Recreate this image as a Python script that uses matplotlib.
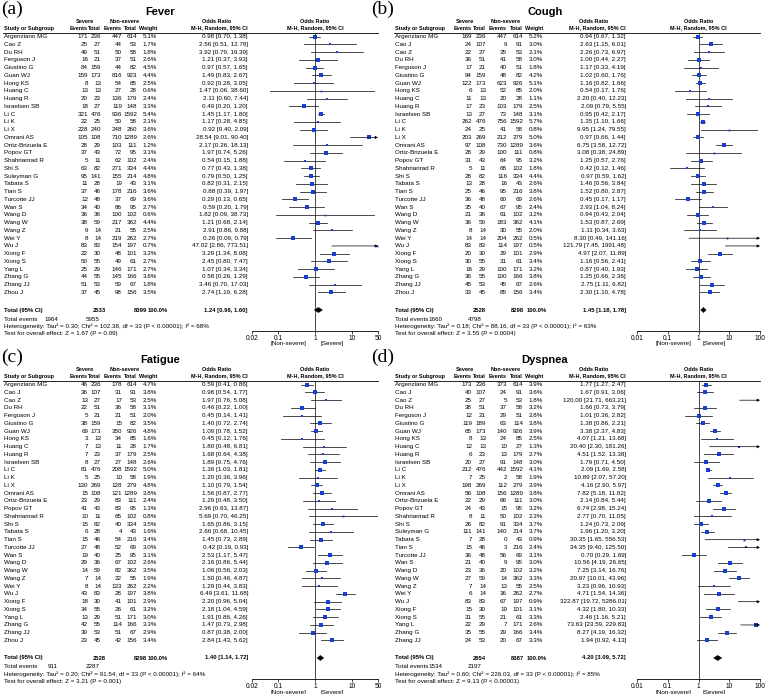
import numpy as np
import matplotlib
matplotlib.use('Agg')
import matplotlib.pyplot as plt
from matplotlib.patches import Polygon

plt.rcParams['font.family'] = ['Liberation Sans', 'DejaVu Sans']

W, H = 773, 694

# ---- Fever ----
fever_study = ['Argenziano MG', 'Cao Z', 'Du RH', 'Ferguson J', 'Giustino G', 'Guan WJ', 'Hong KS', 'Huang C',
               'Huang R', 'Israelsen SB', 'Li C', 'Li K', 'Li X', 'Omrani AS', 'Ortiz-Brizuela E', 'Popov GT',
               'Shahriarirad R', 'Shi S', 'Suleyman G', 'Tabata S', 'Tian S', 'Turcotte JJ', 'Wan S', 'Wang D',
               'Wang W', 'Wang Z', 'Wei Y', 'Wu J', 'Xiong F', 'Xiong S', 'Yang L', 'Zhang G', 'Zhang JJ', 'Zhou J']
fever_ev_s = [171, 25, 49, 16, 84, 159, 8, 13, 20, 18, 321, 22, 228, 105, 28, 37, 5, 63, 95, 11, 37, 12, 34, 36,
              38, 9, 8, 83, 22, 50, 25, 44, 51, 37]
fever_tot_s = [236, 27, 51, 21, 159, 173, 13, 13, 23, 27, 476, 25, 240, 108, 29, 43, 11, 82, 141, 28, 46, 48, 40,
               36, 59, 14, 14, 83, 30, 55, 29, 55, 53, 45]
fever_ev_n = [447, 44, 50, 37, 44, 816, 54, 27, 136, 119, 936, 50, 248, 710, 103, 72, 62, 271, 155, 19, 178, 37,
              86, 100, 217, 21, 219, 154, 48, 49, 146, 145, 59, 98]
fever_tot_n = [614, 53, 58, 51, 82, 923, 85, 28, 179, 148, 1592, 58, 260, 1289, 111, 95, 102, 334, 214, 43, 216,
               69, 95, 102, 362, 55, 262, 197, 101, 61, 171, 166, 67, 156]
fever_w = [5.1, 1.7, 1.8, 2.6, 4.5, 4.4, 2.5, 0.6, 2.4, 3.3, 5.4, 2.1, 3.6, 2.6, 1.2, 3.1, 2.4, 4.4, 4.8, 3.1, 3.6,
           3.6, 2.7, 0.6, 4.4, 2.5, 2.7, 0.7, 3.3, 2.7, 2.7, 3.6, 1.8, 3.5]
fever_or = [0.98, 2.56, 3.92, 1.21, 0.97, 1.49, 0.92, 1.47, 2.11, 0.49, 1.45, 1.17, 0.92, 28.54, 2.17, 1.97, 0.54,
            0.77, 0.79, 0.82, 0.88, 0.29, 0.59, 1.82, 1.21, 2.91, 0.26, 47.02, 3.29, 2.45, 1.07, 0.58, 3.46, 2.74]
fever_lo = [0.70, 0.51, 0.79, 0.37, 0.57, 0.83, 0.28, 0.06, 0.60, 0.20, 1.17, 0.28, 0.40, 9.01, 0.26, 0.74, 0.15,
            0.43, 0.50, 0.31, 0.39, 0.13, 0.20, 0.09, 0.68, 0.86, 0.09, 2.86, 1.34, 0.80, 0.34, 0.26, 0.70, 1.19]
fever_hi = [1.38, 12.78, 19.39, 3.93, 1.65, 2.67, 3.05, 38.60, 7.44, 1.20, 1.80, 4.85, 2.09, 90.40, 18.13, 5.26,
            1.88, 1.38, 1.25, 2.15, 1.97, 0.65, 1.79, 38.73, 2.14, 9.88, 0.79, 773.51, 8.08, 7.47, 3.34, 1.29,
            17.03, 6.28]
fever_total = (2533, 8399, 1964, 5955, 1.24, 0.96, 1.60)
fever_het = 'Heterogeneity: Tau² = 0.30; Chi² = 102.38, df = 33 (P < 0.00001); I² = 68%'
fever_test = 'Test for overall effect: Z = 1.67 (P = 0.09)'

# ---- Cough ----
study_b = ['Argenziano MG', 'Cao J', 'Cao Z', 'Du RH', 'Ferguson J', 'Giustino G', 'Guan WJ', 'Hong KS', 'Huang C',
           'Huang R', 'Israelsen SB', 'Li C', 'Li K', 'Li X', 'Omrani AS', 'Ortiz-Brizuela E', 'Popov GT',
           'Shahriarirad R', 'Shi S', 'Tabata S', 'Tian S', 'Turcotte JJ', 'Wan S', 'Wang D', 'Wang W', 'Wang Z',
           'Wei Y', 'Wu J', 'Xiong F', 'Xiong S', 'Yang L', 'Zhang G', 'Zhang JJ', 'Zhou J']
tot_s_b = [236, 107, 27, 51, 21, 159, 173, 13, 13, 23, 27, 476, 25, 269, 108, 29, 43, 11, 82, 28, 46, 48, 40, 36,
           59, 14, 14, 83, 30, 55, 29, 55, 53, 45]
tot_n_b = [614, 91, 53, 58, 51, 82, 926, 85, 28, 179, 148, 1592, 58, 279, 1289, 111, 95, 102, 334, 43, 216, 69, 95,
           102, 362, 55, 262, 197, 101, 61, 171, 166, 67, 156]
cough_ev_s = [169, 24, 22, 36, 17, 94, 122, 6, 11, 17, 13, 262, 24, 203, 97, 28, 31, 5, 28, 13, 25, 36, 35, 21, 36,
              8, 14, 83, 20, 30, 16, 36, 45, 33]
cough_ev_n = [447, 9, 35, 41, 40, 48, 623, 52, 20, 103, 73, 756, 41, 212, 730, 100, 64, 68, 116, 16, 95, 60, 67, 61,
              183, 30, 204, 114, 29, 31, 100, 100, 45, 85]
cough_w = [5.2, 3.0, 2.1, 3.0, 1.8, 4.2, 5.1, 2.0, 1.1, 2.5, 3.1, 5.7, 0.8, 5.0, 3.6, 0.8, 3.2, 1.8, 4.4, 2.6, 3.8,
           2.6, 2.4, 3.2, 4.1, 2.0, 0.5, 0.5, 2.9, 3.4, 3.2, 3.8, 2.6, 3.4]
cough_or = [0.94, 2.63, 2.26, 1.00, 1.17, 1.02, 1.16, 0.54, 2.20, 2.09, 0.95, 1.35, 9.95, 0.97, 6.75, 3.08, 1.25,
            0.42, 0.97, 1.46, 1.52, 0.45, 2.93, 0.94, 1.53, 1.11, 8.30, 121.79, 4.97, 1.16, 0.87, 1.25, 2.75, 2.30]
cough_lo = [0.67, 1.15, 0.73, 0.44, 0.33, 0.60, 0.82, 0.17, 0.40, 0.79, 0.42, 1.10, 1.24, 0.66, 3.58, 0.38, 0.57,
            0.12, 0.59, 0.56, 0.80, 0.17, 1.04, 0.43, 0.87, 0.34, 0.49, 7.45, 2.07, 0.56, 0.40, 0.66, 1.11, 1.10]
cough_hi = [1.32, 6.01, 6.97, 2.27, 4.19, 1.76, 1.66, 1.76, 12.23, 5.55, 2.17, 1.66, 79.55, 1.44, 12.72, 24.89, 2.76,
            1.46, 1.62, 3.84, 2.87, 1.17, 8.24, 2.04, 2.69, 3.63, 141.16, 1991.48, 11.89, 2.41, 1.93, 2.36, 6.82,
            4.78]
cough_total = (2528, 8298, 1660, 4798, 1.45, 1.18, 1.78)
cough_het = 'Heterogeneity: Tau² = 0.18; Chi² = 88.16, df = 33 (P < 0.00001); I² = 63%'
cough_test = 'Test for overall effect: Z = 3.55 (P = 0.0004)'

# ---- Fatigue ----
fat_ev_s = [46, 36, 13, 22, 5, 38, 69, 3, 7, 7, 8, 81, 5, 130, 15, 23, 41, 10, 15, 6, 15, 27, 19, 29, 14, 7, 8, 43,
            18, 34, 13, 42, 39, 23]
fat_ev_n = [178, 31, 17, 36, 21, 15, 350, 34, 11, 37, 27, 208, 10, 128, 121, 83, 83, 65, 40, 4, 54, 52, 25, 67, 82,
            22, 133, 28, 41, 26, 51, 114, 51, 42]
fat_w = [4.7, 3.8, 2.5, 3.1, 2.0, 3.5, 4.8, 1.6, 1.7, 2.5, 2.6, 5.0, 1.9, 4.8, 3.8, 2.4, 1.3, 0.8, 3.5, 1.6, 3.4,
         3.0, 3.1, 2.6, 3.5, 1.9, 2.2, 3.8, 2.9, 3.2, 3.0, 3.3, 2.9, 3.4]
fat_or = [0.59, 0.98, 1.97, 0.46, 0.45, 1.40, 1.09, 0.45, 1.80, 1.68, 1.89, 1.36, 1.20, 1.10, 1.56, 1.29, 2.96,
          5.69, 1.65, 2.66, 1.45, 0.42, 2.53, 2.16, 1.06, 1.50, 1.29, 6.49, 2.20, 2.18, 1.91, 1.47, 0.87, 2.84]
fat_lo = [0.41, 0.54, 0.76, 0.22, 0.14, 0.72, 0.78, 0.12, 0.48, 0.64, 0.75, 1.03, 0.36, 0.79, 0.87, 0.48, 0.63,
          0.70, 0.86, 0.68, 0.73, 0.19, 1.17, 0.86, 0.56, 0.46, 0.44, 3.61, 0.96, 1.04, 0.86, 0.73, 0.38, 1.43]
fat_hi = [0.86, 1.77, 5.08, 1.00, 1.41, 2.74, 1.52, 1.76, 6.81, 4.38, 4.76, 1.81, 3.96, 1.54, 2.77, 3.50, 13.87,
          46.25, 3.15, 10.45, 2.89, 0.93, 5.47, 5.44, 2.03, 4.87, 3.83, 11.68, 5.04, 4.59, 4.26, 2.98, 2.00, 5.62]
fat_total = (2528, 8298, 911, 2287, 1.40, 1.14, 1.72)
fat_het = 'Heterogeneity: Tau² = 0.20; Chi² = 91.54, df = 33 (P < 0.00001); I² = 64%'
fat_test = 'Test for overall effect: Z = 3.21 (P = 0.001)'

# ---- Dyspnea ----
dys_study = ['Argenziano MG', 'Cao J', 'Cao Z', 'Du RH', 'Ferguson J', 'Giustino G', 'Guan WJ', 'Hong KS', 'Huang C',
             'Huang R', 'Israelsen SB', 'Li C', 'Li K', 'Li X', 'Omrani AS', 'Ortiz-Brizuela E', 'Popov GT',
             'Shahriarirad R', 'Shi S', 'Suleyman G', 'Tabata S', 'Tian S', 'Turcotte JJ', 'Wan S', 'Wang D',
             'Wang W', 'Wang Z', 'Wei Y', 'Wu J', 'Xiong F', 'Xiong S', 'Yang L', 'Zhang G', 'Zhang JJ']
dys_ev_s = [173, 40, 25, 38, 12, 119, 65, 8, 12, 6, 20, 212, 7, 198, 56, 22, 24, 8, 26, 111, 7, 15, 36, 21, 23, 27,
            7, 6, 83, 15, 31, 22, 35, 24]
dys_tot_s = [236, 107, 27, 51, 21, 189, 173, 13, 13, 23, 27, 476, 25, 269, 108, 29, 43, 11, 82, 141, 28, 46, 48, 40,
             36, 59, 14, 14, 83, 30, 55, 29, 55, 53]
dys_ev_n = [373, 24, 5, 37, 29, 63, 140, 24, 10, 13, 91, 442, 2, 112, 156, 66, 15, 50, 91, 140, 0, 3, 56, 9, 20, 14,
            13, 36, 67, 19, 21, 7, 29, 20]
dys_tot_n = [614, 91, 53, 58, 51, 114, 926, 85, 27, 179, 148, 1592, 58, 279, 1289, 111, 95, 102, 334, 214, 43, 216,
             69, 95, 102, 362, 55, 262, 197, 101, 61, 171, 166, 67]
dys_w = [3.9, 3.6, 1.8, 3.2, 2.8, 3.8, 3.9, 2.5, 1.3, 2.7, 3.0, 4.1, 1.9, 3.9, 3.8, 3.0, 3.2, 2.3, 3.7, 3.7, 0.9,
         2.4, 3.1, 3.0, 3.2, 3.3, 2.5, 2.7, 0.9, 3.1, 3.3, 2.6, 3.4, 3.3]
dys_or = [1.77, 1.67, 120.00, 1.66, 1.01, 1.38, 3.38, 4.07, 20.40, 4.51, 1.79, 2.09, 10.89, 4.16, 7.82, 2.14, 6.74,
          2.77, 1.24, 1.96, 30.35, 34.35, 0.70, 10.56, 7.25, 20.97, 3.23, 4.71, 322.87, 4.32, 2.46, 73.63, 8.27,
          1.94]
dys_lo = [1.27, 0.91, 21.71, 0.73, 0.36, 0.86, 2.37, 1.21, 2.30, 1.52, 0.71, 1.69, 2.07, 2.90, 5.18, 0.84, 2.98,
          0.70, 0.73, 1.20, 1.65, 9.40, 0.29, 4.19, 3.14, 10.01, 0.96, 1.54, 19.72, 1.80, 1.16, 23.59, 4.19, 0.92]
dys_hi = [2.47, 3.06, 663.21, 3.79, 2.82, 2.21, 4.83, 13.68, 181.26, 13.38, 4.50, 2.58, 57.20, 5.97, 11.82, 5.44,
          15.24, 11.05, 2.09, 3.20, 556.53, 125.50, 1.69, 26.65, 16.76, 43.96, 10.93, 14.36, 5286.01, 10.33, 5.21,
          229.83, 16.32, 4.13]
dys_total = (2654, 8387, 1534, 2197, 4.20, 3.09, 5.72)
dys_het = 'Heterogeneity: Tau² = 0.60; Chi² = 226.03, df = 33 (P < 0.00001); I² = 85%'
dys_test = 'Test for overall effect: Z = 9.13 (P < 0.00001)'

# layouts (pixel positions)
left_cols = dict(study=4, ev1=88, tot1=101, ev2=122, tot2=137, w=157, ci=248,
                 t_tot1=106, t_tot2=147, t_w=168, t_ev1=58, t_ev2=100,
                 sev=85, nsev=125, orh=217, title=160, x0=252, x1=378,
                 xlim=(0.02, 50), ticks=[0.02, 0.1, 1, 10, 50], lab=0)
right_cols = dict(study=395, ev1=472, tot1=486, ev2=507, tot2=523, w=543, ci=626,
                  t_tot1=486, t_tot2=524, t_w=547, t_ev1=442, t_ev2=482,
                  sev=465, nsev=506, orh=594, title=545, x0=637, x1=760,
                  xlim=(0.01, 100), ticks=[0.01, 0.1, 1, 10, 100], lab=370)

fig = plt.figure(figsize=(W / 100, H / 100), dpi=100)
tax = fig.add_axes([0, 0, 1, 1])
tax.set_xlim(0, W)
tax.set_ylim(H, 0)
tax.axis('off')

FS = 4.5
FB = 4.0


def panel(label, title, L, oy, study, ev_s, tot_s, ev_n, tot_n, w, o, lo, hi, total, het, test):
    tax.text(L['lab'] + 1, oy + 1, label, family=['Liberation Serif'], fontsize=14, va='top', ha='left')
    tax.text(L['title'], oy + 12, title, fontsize=8, fontweight='bold', ha='center', va='center')
    tax.text(L['sev'], oy + 21.5, 'Severe', fontsize=FB, fontweight='bold', ha='center', va='center')
    tax.text(L['nsev'], oy + 21.5, 'Non-severe', fontsize=FB, fontweight='bold', ha='center', va='center')
    tax.text(L['orh'], oy + 21.5, 'Odds Ratio', fontsize=FB, fontweight='bold', ha='center', va='center')
    hy = oy + 28
    kw = dict(fontsize=FB, fontweight='bold', va='center')
    tax.text(L['study'], hy, 'Study or Subgroup', ha='left', **kw)
    for key, txt in [('ev1', 'Events'), ('tot1', 'Total'), ('ev2', 'Events'), ('tot2', 'Total'),
                     ('w', 'Weight'), ('ci', 'M-H, Random, 95% CI')]:
        tax.text(L[key], hy, txt, ha='right', **kw)
    tax.plot([L['study'] - 1, L['x1']], [oy + 32.5, oy + 32.5], color='black', lw=0.6)

    row_y = oy + 36.7 + np.arange(len(study)) * 7.75
    rk = dict(fontsize=FS, va='center')
    for i, y in enumerate(row_y):
        tax.text(L['study'], y, study[i], ha='left', **rk)
        tax.text(L['ev1'], y, str(ev_s[i]), ha='right', **rk)
        tax.text(L['tot1'], y, str(tot_s[i]), ha='right', **rk)
        tax.text(L['ev2'], y, str(ev_n[i]), ha='right', **rk)
        tax.text(L['tot2'], y, str(tot_n[i]), ha='right', **rk)
        tax.text(L['w'], y, f'{w[i]:.1f}%', ha='right', **rk)
        tax.text(L['ci'], y, f'{o[i]:.2f} [{lo[i]:.2f}, {hi[i]:.2f}]', ha='right', **rk)

    ty = oy + 310
    tt1, tt2, te1, te2, tor, tlo, thi = total
    bk = dict(fontsize=FB + 0.2, fontweight='bold', va='center')
    tax.text(L['study'], ty, 'Total (95% CI)', ha='left', **bk)
    tax.text(L['t_tot1'], ty, str(tt1), ha='right', **bk)
    tax.text(L['t_tot2'], ty, str(tt2), ha='right', **bk)
    tax.text(L['t_w'], ty, '100.0%', ha='right', **bk)
    tax.text(L['ci'], ty, f'{tor:.2f} [{tlo:.2f}, {thi:.2f}]', ha='right', **bk)
    tax.text(L['study'], oy + 319, 'Total events', ha='left', **rk)
    tax.text(L['t_ev1'], oy + 319, str(te1), ha='right', **rk)
    tax.text(L['t_ev2'], oy + 319, str(te2), ha='right', **rk)
    tax.text(L['study'], oy + 326.3, het, ha='left', **rk)
    tax.text(L['study'], oy + 333, test, ha='left', **rk)

    # forest plot
    yt, yb = oy + 33, oy + 331
    ax = fig.add_axes([L['x0'] / W, 1 - yb / H, (L['x1'] - L['x0']) / W, (yb - yt) / H])
    ax.set_xscale('log')
    xmin, xmax = L['xlim']
    ax.set_xlim(xmin, xmax)
    ax.set_ylim(yb, yt)
    ax.patch.set_alpha(0)
    for s in ['top', 'left', 'right']:
        ax.spines[s].set_visible(False)
    ax.spines['bottom'].set_linewidth(0.6)
    ax.set_yticks([])
    ax.set_xticks(L['ticks'])
    ax.set_xticklabels([f'{t:g}' for t in L['ticks']])
    ax.minorticks_off()
    ax.tick_params(axis='x', labelsize=FS + 0.3, length=2, width=0.5, pad=1)
    ax.axvline(1, color='black', lw=0.5)

    for i, y in enumerate(row_y):
        a, b = max(lo[i], xmin), min(hi[i], xmax)
        if hi[i] > xmax:
            ax.annotate('', xy=(xmax, y), xytext=(a, y),
                        arrowprops=dict(arrowstyle='-|>', lw=0.5, color='black', mutation_scale=4,
                                        shrinkA=0, shrinkB=0))
        else:
            ax.plot([a, b], [y, y], color='black', lw=0.5)
        if xmin <= o[i] <= xmax:
            ax.plot(o[i], y, marker='s', color='#1a3fd0', markersize=1.0 + 0.45 * w[i],
                    markeredgewidth=0)
    ax.add_patch(Polygon([[tlo, ty], [tor, ty - 2.6], [thi, ty], [tor, ty + 2.6]], closed=True,
                         facecolor='black', edgecolor='black', lw=0.3))

    ax.text(1, oy + 21.5, 'Odds Ratio', fontsize=FB, fontweight='bold', ha='center', va='center', clip_on=False)
    ax.text(1, oy + 28, 'M-H, Random, 95% CI', fontsize=FB, fontweight='bold', ha='center', va='center',
            clip_on=False)
    ax.text(0.6, oy + 344, '[Non-severe]', fontsize=FS, ha='right', va='center', clip_on=False)
    ax.text(1.4, oy + 344, '[Severe]', fontsize=FS, ha='left', va='center', clip_on=False)


panel('(a)', 'Fever', left_cols, 0, fever_study, fever_ev_s, fever_tot_s, fever_ev_n, fever_tot_n,
      fever_w, fever_or, fever_lo, fever_hi, fever_total, fever_het, fever_test)
panel('(b)', 'Cough', right_cols, 0, study_b, cough_ev_s, tot_s_b, cough_ev_n, tot_n_b,
      cough_w, cough_or, cough_lo, cough_hi, cough_total, cough_het, cough_test)
panel('(c)', 'Fatigue', left_cols, 348, study_b, fat_ev_s, tot_s_b, fat_ev_n, tot_n_b,
      fat_w, fat_or, fat_lo, fat_hi, fat_total, fat_het, fat_test)
panel('(d)', 'Dyspnea', right_cols, 348, dys_study, dys_ev_s, dys_tot_s, dys_ev_n, dys_tot_n,
      dys_w, dys_or, dys_lo, dys_hi, dys_total, dys_het, dys_test)

fig.savefig('out.png', dpi=100)
